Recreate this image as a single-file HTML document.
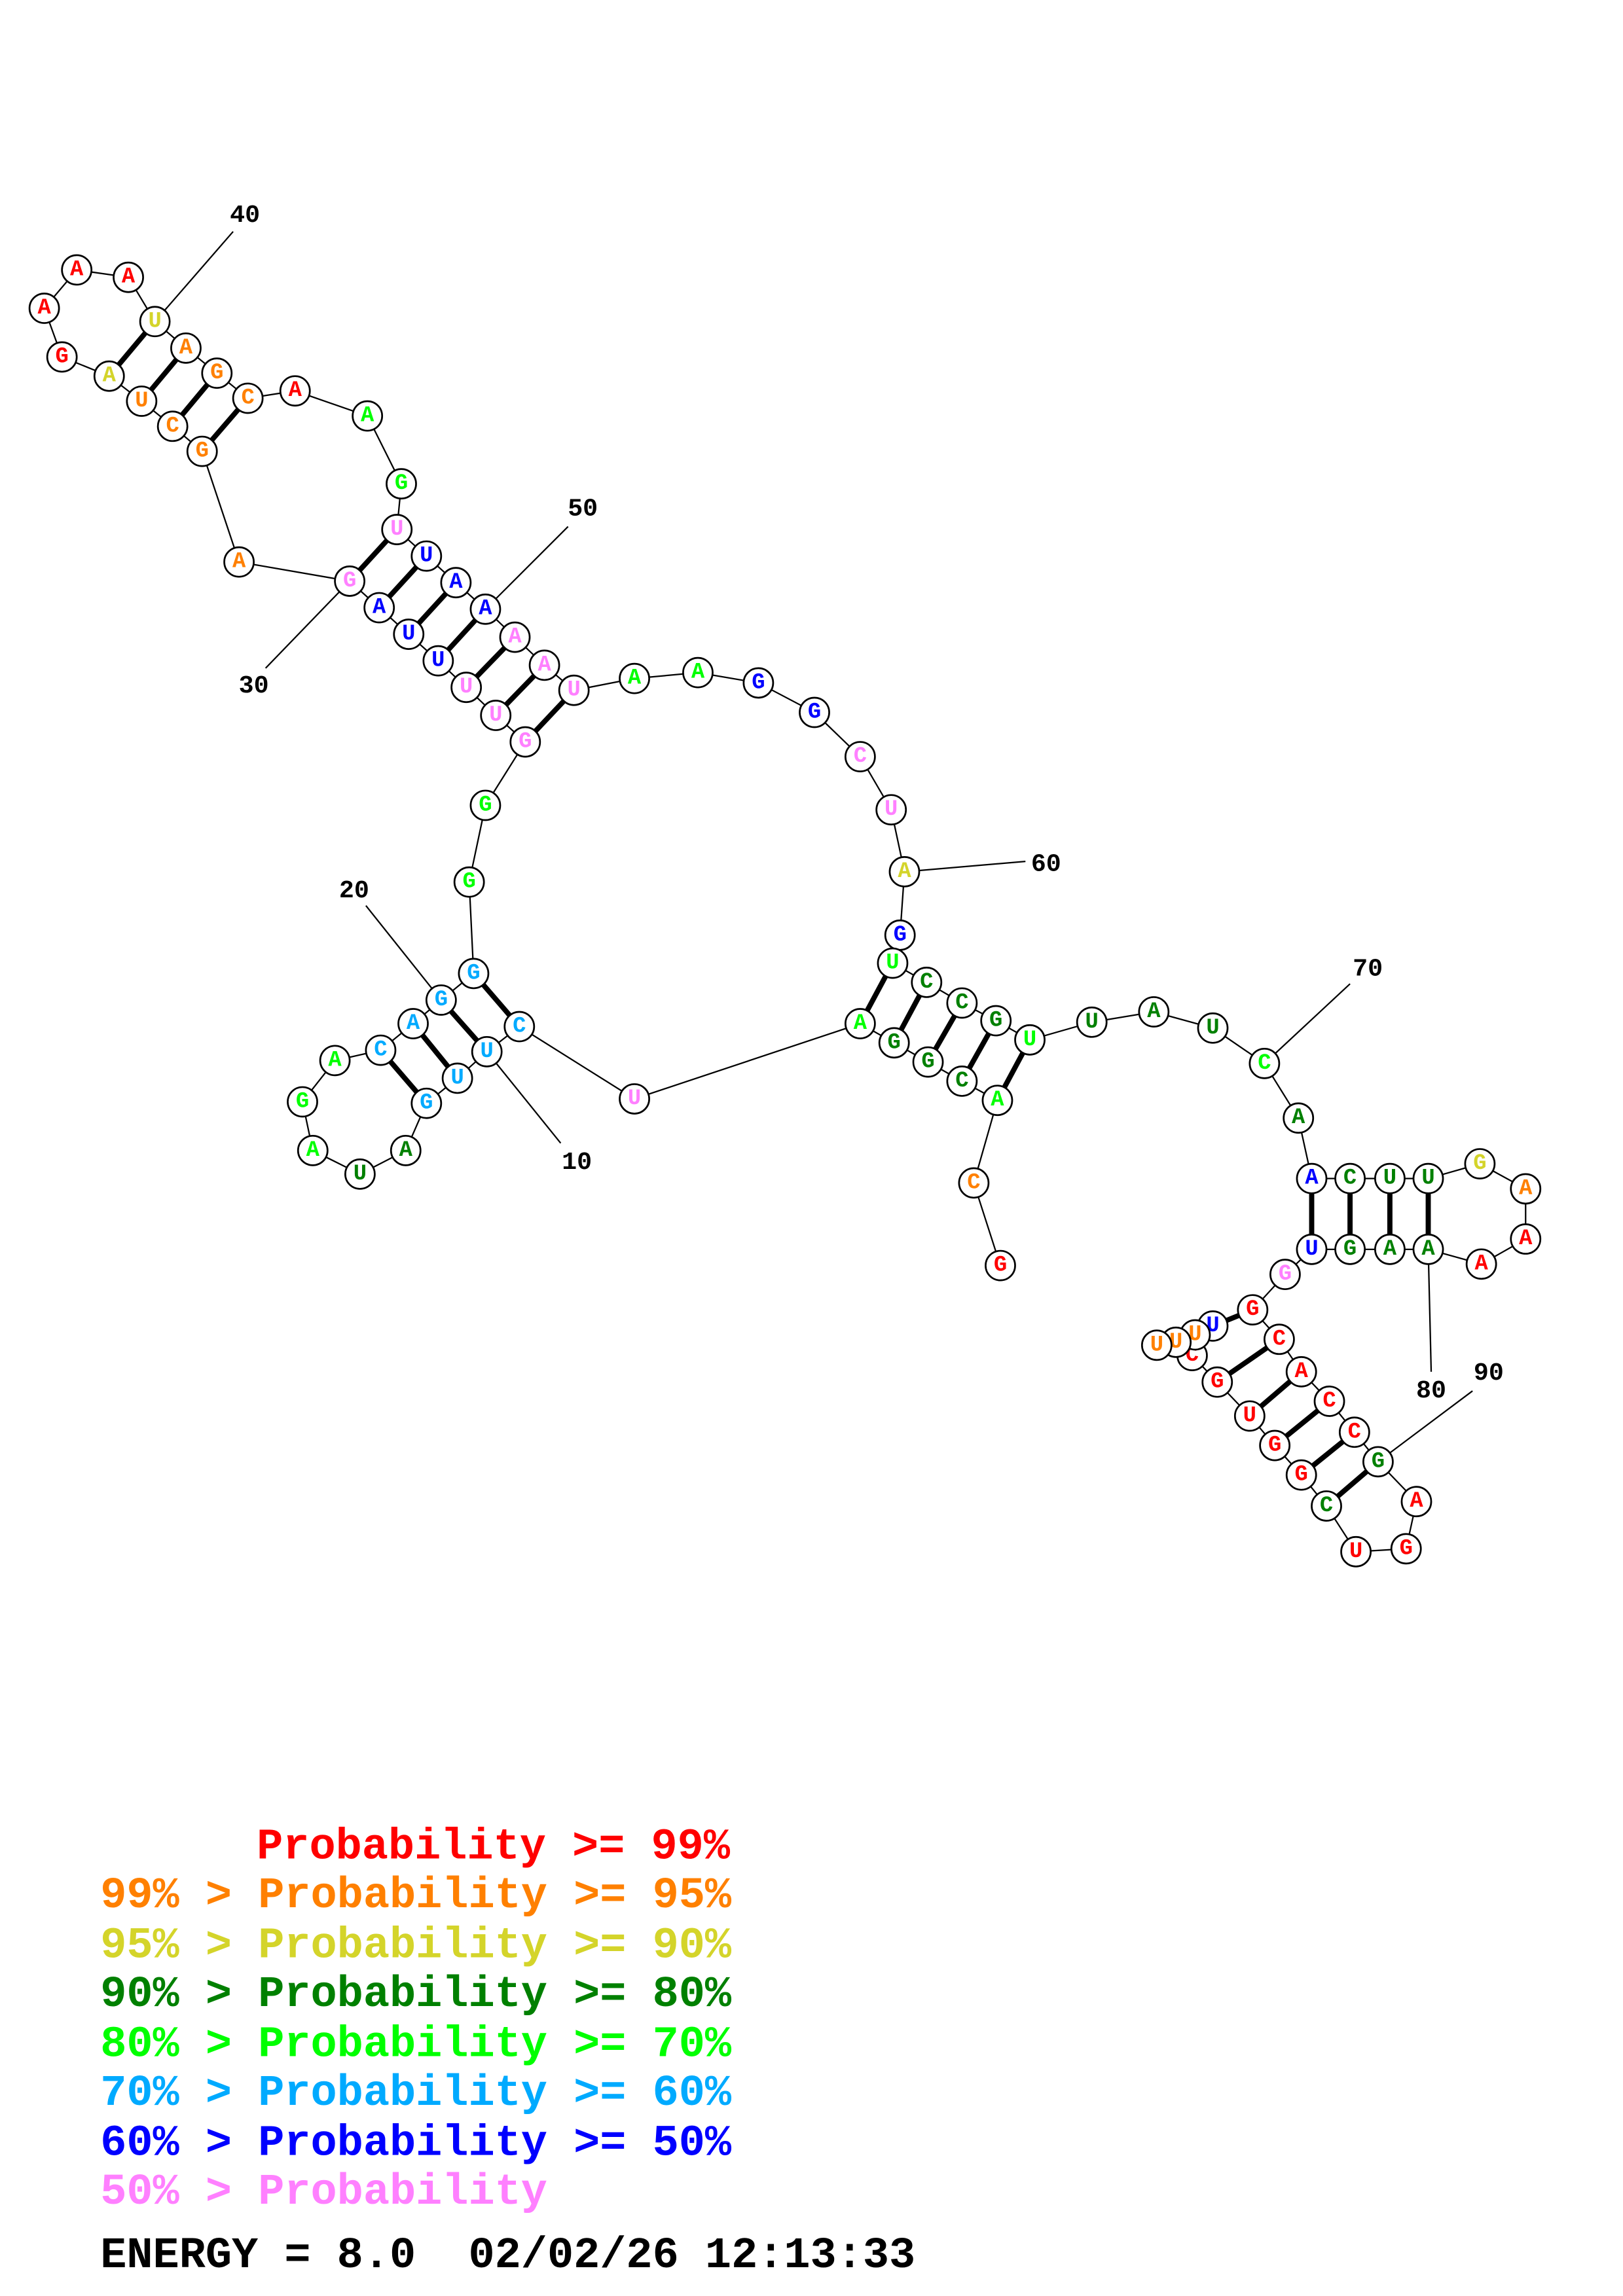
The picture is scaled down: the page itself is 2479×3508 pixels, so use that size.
<!DOCTYPE html>
<html><head><meta charset="utf-8"><style>
html,body{margin:0;padding:0;background:#fff;}
svg{display:block;}
circle{fill:#fff;stroke:#000;stroke-width:1.2;}
.n text{font-family:"Liberation Mono",monospace;font-weight:bold;font-size:15px;text-anchor:middle;dominant-baseline:central;}
.lab{font-family:"Liberation Mono",monospace;font-weight:bold;font-size:17px;fill:#000;text-anchor:middle;dominant-baseline:central;}
.leg{font-family:"Liberation Mono",monospace;font-weight:bold;font-size:29.7px;white-space:pre;}
.leg text{white-space:pre;}
</style></head><body>
<svg width="2479" height="3508" viewBox="0 0 1100 1556.6" preserveAspectRatio="none" xmlns="http://www.w3.org/2000/svg">
<rect width="1100" height="1557" fill="#fff"/>
<polyline fill="none" stroke="#000" stroke-width="1" points="678,858 660,802 676,746 652,733 629,720 606,707 583,694 430,745 352,696 330,713 310,731 289,748 275,780 244,796 212,780 205,747 227,719 258,712 280,694 299,678 321,660 318,598 329,546 356,503 336,485 316,466 297,448 277,430 257,412 237,394 162,381 137,306 117,289 96,272 74,255 42,242 30,209 52,183 87,188 105,218 126,236 147,253 168,270 200,265 249,282 272,328 269,359 289,377 309,395 329,413 349,432 369,451 389,468 430,460 473,456 514,463 552,483 583,513 604,549 613,591 610,634 605,653 628,666 652,680 675,692 698,705 740,693 782,686 822,697 857,721 880,758 889,799 915,799 942,799 968,799 1003,789 1034,806 1034,840 1004,857 968,847 942,847 915,847 889,847 871,864 849,888 867,908 882,930 901,950 918,971 934,991 960,1018 953,1050 919,1052 899,1021 882,1000 864,980 847,960 825,937 808,919 822,899 810,905 797,910 784,912"/>
<g stroke="#000" stroke-width="3.5">
<line x1="605" y1="653" x2="583" y2="694"/><line x1="628" y1="666" x2="606" y2="707"/><line x1="652" y1="680" x2="629" y2="720"/><line x1="675" y1="692" x2="652" y2="733"/><line x1="698" y1="705" x2="676" y2="746"/>
<line x1="352" y1="696" x2="321" y2="660"/><line x1="330" y1="713" x2="299" y2="678"/><line x1="310" y1="731" x2="280" y2="694"/><line x1="289" y1="748" x2="258" y2="712"/>
<line x1="356" y1="503" x2="389" y2="468"/><line x1="336" y1="485" x2="369" y2="451"/><line x1="316" y1="466" x2="349" y2="432"/><line x1="297" y1="448" x2="329" y2="413"/><line x1="277" y1="430" x2="309" y2="395"/><line x1="257" y1="412" x2="289" y2="377"/><line x1="237" y1="394" x2="269" y2="359"/>
<line x1="137" y1="306" x2="168" y2="270"/><line x1="117" y1="289" x2="147" y2="253"/><line x1="96" y1="272" x2="126" y2="236"/><line x1="74" y1="255" x2="105" y2="218"/>
<line x1="889" y1="799" x2="889" y2="847"/><line x1="915" y1="799" x2="915" y2="847"/><line x1="942" y1="799" x2="942" y2="847"/><line x1="968" y1="799" x2="968" y2="847"/>
<line x1="849" y1="888" x2="822" y2="899"/><line x1="867" y1="908" x2="825" y2="937"/><line x1="882" y1="930" x2="847" y2="960"/><line x1="901" y1="950" x2="864" y2="980"/><line x1="918" y1="971" x2="882" y2="1000"/><line x1="934" y1="991" x2="899" y2="1021"/>
</g>
<g stroke="#000" stroke-width="1">
<line x1="330" y1="713" x2="380" y2="775"/><line x1="299" y1="678" x2="248" y2="614"/><line x1="237" y1="394" x2="180" y2="453"/><line x1="105" y1="218" x2="158" y2="157"/><line x1="329" y1="413" x2="385" y2="357"/><line x1="613" y1="591" x2="695" y2="584"/><line x1="857" y1="721" x2="915" y2="667"/><line x1="968" y1="847" x2="970" y2="930"/><line x1="934" y1="991" x2="998" y2="943"/>
</g>
<text class="lab" x="391" y="788">10</text><text class="lab" x="240" y="604">20</text><text class="lab" x="172" y="465">30</text><text class="lab" x="166" y="146">40</text><text class="lab" x="395" y="345">50</text><text class="lab" x="709" y="586">60</text><text class="lab" x="927" y="657">70</text><text class="lab" x="970" y="943">80</text><text class="lab" x="1009" y="931">90</text>
<g class="n">
<circle cx="678" cy="858" r="10"/><text x="678" y="858" fill="#ff0000">G</text>
<circle cx="660" cy="802" r="10"/><text x="660" y="802" fill="#ff8000">C</text>
<circle cx="676" cy="746" r="10"/><text x="676" y="746" fill="#00ff00">A</text>
<circle cx="652" cy="733" r="10"/><text x="652" y="733" fill="#008000">C</text>
<circle cx="629" cy="720" r="10"/><text x="629" y="720" fill="#008000">G</text>
<circle cx="606" cy="707" r="10"/><text x="606" y="707" fill="#008000">G</text>
<circle cx="583" cy="694" r="10"/><text x="583" y="694" fill="#00ff00">A</text>
<circle cx="430" cy="745" r="10"/><text x="430" y="745" fill="#ff80ff">U</text>
<circle cx="352" cy="696" r="10"/><text x="352" y="696" fill="#00aaff">C</text>
<circle cx="330" cy="713" r="10"/><text x="330" y="713" fill="#00aaff">U</text>
<circle cx="310" cy="731" r="10"/><text x="310" y="731" fill="#00aaff">U</text>
<circle cx="289" cy="748" r="10"/><text x="289" y="748" fill="#00aaff">G</text>
<circle cx="275" cy="780" r="10"/><text x="275" y="780" fill="#008000">A</text>
<circle cx="244" cy="796" r="10"/><text x="244" y="796" fill="#008000">U</text>
<circle cx="212" cy="780" r="10"/><text x="212" y="780" fill="#00ff00">A</text>
<circle cx="205" cy="747" r="10"/><text x="205" y="747" fill="#00ff00">G</text>
<circle cx="227" cy="719" r="10"/><text x="227" y="719" fill="#00ff00">A</text>
<circle cx="258" cy="712" r="10"/><text x="258" y="712" fill="#00aaff">C</text>
<circle cx="280" cy="694" r="10"/><text x="280" y="694" fill="#00aaff">A</text>
<circle cx="299" cy="678" r="10"/><text x="299" y="678" fill="#00aaff">G</text>
<circle cx="321" cy="660" r="10"/><text x="321" y="660" fill="#00aaff">G</text>
<circle cx="318" cy="598" r="10"/><text x="318" y="598" fill="#00ff00">G</text>
<circle cx="329" cy="546" r="10"/><text x="329" y="546" fill="#00ff00">G</text>
<circle cx="356" cy="503" r="10"/><text x="356" y="503" fill="#ff80ff">G</text>
<circle cx="336" cy="485" r="10"/><text x="336" y="485" fill="#ff80ff">U</text>
<circle cx="316" cy="466" r="10"/><text x="316" y="466" fill="#ff80ff">U</text>
<circle cx="297" cy="448" r="10"/><text x="297" y="448" fill="#0000ff">U</text>
<circle cx="277" cy="430" r="10"/><text x="277" y="430" fill="#0000ff">U</text>
<circle cx="257" cy="412" r="10"/><text x="257" y="412" fill="#0000ff">A</text>
<circle cx="237" cy="394" r="10"/><text x="237" y="394" fill="#ff80ff">G</text>
<circle cx="162" cy="381" r="10"/><text x="162" y="381" fill="#ff8000">A</text>
<circle cx="137" cy="306" r="10"/><text x="137" y="306" fill="#ff8000">G</text>
<circle cx="117" cy="289" r="10"/><text x="117" y="289" fill="#ff8000">C</text>
<circle cx="96" cy="272" r="10"/><text x="96" y="272" fill="#ff8000">U</text>
<circle cx="74" cy="255" r="10"/><text x="74" y="255" fill="#d4d42a">A</text>
<circle cx="42" cy="242" r="10"/><text x="42" y="242" fill="#ff0000">G</text>
<circle cx="30" cy="209" r="10"/><text x="30" y="209" fill="#ff0000">A</text>
<circle cx="52" cy="183" r="10"/><text x="52" y="183" fill="#ff0000">A</text>
<circle cx="87" cy="188" r="10"/><text x="87" y="188" fill="#ff0000">A</text>
<circle cx="105" cy="218" r="10"/><text x="105" y="218" fill="#d4d42a">U</text>
<circle cx="126" cy="236" r="10"/><text x="126" y="236" fill="#ff8000">A</text>
<circle cx="147" cy="253" r="10"/><text x="147" y="253" fill="#ff8000">G</text>
<circle cx="168" cy="270" r="10"/><text x="168" y="270" fill="#ff8000">C</text>
<circle cx="200" cy="265" r="10"/><text x="200" y="265" fill="#ff0000">A</text>
<circle cx="249" cy="282" r="10"/><text x="249" y="282" fill="#00ff00">A</text>
<circle cx="272" cy="328" r="10"/><text x="272" y="328" fill="#00ff00">G</text>
<circle cx="269" cy="359" r="10"/><text x="269" y="359" fill="#ff80ff">U</text>
<circle cx="289" cy="377" r="10"/><text x="289" y="377" fill="#0000ff">U</text>
<circle cx="309" cy="395" r="10"/><text x="309" y="395" fill="#0000ff">A</text>
<circle cx="329" cy="413" r="10"/><text x="329" y="413" fill="#0000ff">A</text>
<circle cx="349" cy="432" r="10"/><text x="349" y="432" fill="#ff80ff">A</text>
<circle cx="369" cy="451" r="10"/><text x="369" y="451" fill="#ff80ff">A</text>
<circle cx="389" cy="468" r="10"/><text x="389" y="468" fill="#ff80ff">U</text>
<circle cx="430" cy="460" r="10"/><text x="430" y="460" fill="#00ff00">A</text>
<circle cx="473" cy="456" r="10"/><text x="473" y="456" fill="#00ff00">A</text>
<circle cx="514" cy="463" r="10"/><text x="514" y="463" fill="#0000ff">G</text>
<circle cx="552" cy="483" r="10"/><text x="552" y="483" fill="#0000ff">G</text>
<circle cx="583" cy="513" r="10"/><text x="583" y="513" fill="#ff80ff">C</text>
<circle cx="604" cy="549" r="10"/><text x="604" y="549" fill="#ff80ff">U</text>
<circle cx="613" cy="591" r="10"/><text x="613" y="591" fill="#d4d42a">A</text>
<circle cx="610" cy="634" r="10"/><text x="610" y="634" fill="#0000ff">G</text>
<circle cx="605" cy="653" r="10"/><text x="605" y="653" fill="#00ff00">U</text>
<circle cx="628" cy="666" r="10"/><text x="628" y="666" fill="#008000">C</text>
<circle cx="652" cy="680" r="10"/><text x="652" y="680" fill="#008000">C</text>
<circle cx="675" cy="692" r="10"/><text x="675" y="692" fill="#008000">G</text>
<circle cx="698" cy="705" r="10"/><text x="698" y="705" fill="#00ff00">U</text>
<circle cx="740" cy="693" r="10"/><text x="740" y="693" fill="#008000">U</text>
<circle cx="782" cy="686" r="10"/><text x="782" y="686" fill="#008000">A</text>
<circle cx="822" cy="697" r="10"/><text x="822" y="697" fill="#008000">U</text>
<circle cx="857" cy="721" r="10"/><text x="857" y="721" fill="#00ff00">C</text>
<circle cx="880" cy="758" r="10"/><text x="880" y="758" fill="#008000">A</text>
<circle cx="889" cy="799" r="10"/><text x="889" y="799" fill="#0000ff">A</text>
<circle cx="915" cy="799" r="10"/><text x="915" y="799" fill="#008000">C</text>
<circle cx="942" cy="799" r="10"/><text x="942" y="799" fill="#008000">U</text>
<circle cx="968" cy="799" r="10"/><text x="968" y="799" fill="#008000">U</text>
<circle cx="1003" cy="789" r="10"/><text x="1003" y="789" fill="#d4d42a">G</text>
<circle cx="1034" cy="806" r="10"/><text x="1034" y="806" fill="#ff8000">A</text>
<circle cx="1034" cy="840" r="10"/><text x="1034" y="840" fill="#ff0000">A</text>
<circle cx="1004" cy="857" r="10"/><text x="1004" y="857" fill="#ff0000">A</text>
<circle cx="968" cy="847" r="10"/><text x="968" y="847" fill="#008000">A</text>
<circle cx="942" cy="847" r="10"/><text x="942" y="847" fill="#008000">A</text>
<circle cx="915" cy="847" r="10"/><text x="915" y="847" fill="#008000">G</text>
<circle cx="889" cy="847" r="10"/><text x="889" y="847" fill="#0000ff">U</text>
<circle cx="871" cy="864" r="10"/><text x="871" y="864" fill="#ff80ff">G</text>
<circle cx="849" cy="888" r="10"/><text x="849" y="888" fill="#ff0000">G</text>
<circle cx="867" cy="908" r="10"/><text x="867" y="908" fill="#ff0000">C</text>
<circle cx="882" cy="930" r="10"/><text x="882" y="930" fill="#ff0000">A</text>
<circle cx="901" cy="950" r="10"/><text x="901" y="950" fill="#ff0000">C</text>
<circle cx="918" cy="971" r="10"/><text x="918" y="971" fill="#ff0000">C</text>
<circle cx="934" cy="991" r="10"/><text x="934" y="991" fill="#008000">G</text>
<circle cx="960" cy="1018" r="10"/><text x="960" y="1018" fill="#ff0000">A</text>
<circle cx="953" cy="1050" r="10"/><text x="953" y="1050" fill="#ff0000">G</text>
<circle cx="919" cy="1052" r="10"/><text x="919" y="1052" fill="#ff0000">U</text>
<circle cx="899" cy="1021" r="10"/><text x="899" y="1021" fill="#008000">C</text>
<circle cx="882" cy="1000" r="10"/><text x="882" y="1000" fill="#ff0000">G</text>
<circle cx="864" cy="980" r="10"/><text x="864" y="980" fill="#ff0000">G</text>
<circle cx="847" cy="960" r="10"/><text x="847" y="960" fill="#ff0000">U</text>
<circle cx="825" cy="937" r="10"/><text x="825" y="937" fill="#ff0000">G</text>
<circle cx="808" cy="919" r="10"/><text x="808" y="919" fill="#ff0000">C</text>
<circle cx="822" cy="899" r="10"/><text x="822" y="899" fill="#0000ff">U</text>
<circle cx="810" cy="905" r="10"/><text x="810" y="905" fill="#ff8000">U</text>
<circle cx="797" cy="910" r="10"/><text x="797" y="910" fill="#ff8000">U</text>
<circle cx="784" cy="912" r="10"/><text x="784" y="912" fill="#ff8000">U</text>
</g>
<g class="leg">
<text x="174" y="1260" fill="#ff0000">Probability &gt;= 99%</text>
<text x="68" y="1293" fill="#ff8000">99% &gt; Probability &gt;= 95%</text>
<text x="68" y="1327" fill="#d4d42a">95% &gt; Probability &gt;= 90%</text>
<text x="68" y="1360" fill="#008000">90% &gt; Probability &gt;= 80%</text>
<text x="68" y="1394" fill="#00ff00">80% &gt; Probability &gt;= 70%</text>
<text x="68" y="1427" fill="#00aaff">70% &gt; Probability &gt;= 60%</text>
<text x="68" y="1461" fill="#0000ff">60% &gt; Probability &gt;= 50%</text>
<text x="68" y="1494" fill="#ff80ff">50% &gt; Probability</text>
<text x="68" y="1537" fill="#000000">ENERGY = 8.0  02/02/26 12:13:33</text>
</g>
</svg>
</body></html>
